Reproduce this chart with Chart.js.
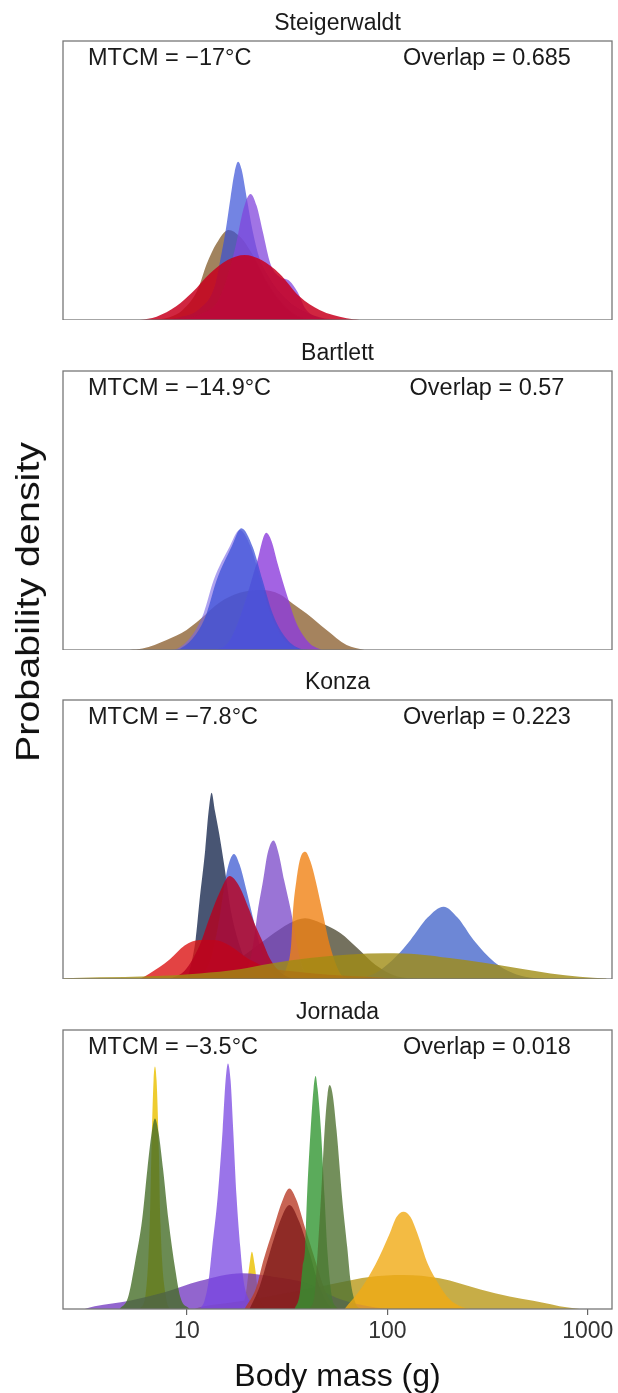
<!DOCTYPE html>
<html lang="en">
<head>
<meta charset="UTF-8">
<title>Body mass density by site</title>
<script src="https://cdn.jsdelivr.net/npm/chart.js"></script>
<style>
  body { margin: 0; background: #fff; font-family: "Liberation Sans", Arial, sans-serif; }
  #page { position: relative; width: 618px; height: 1393px; overflow: hidden; }
  .panel { position: absolute; left: 0; width: 618px; }
  .note { position: absolute; font-size: 23.5px; line-height: 1; color: #1a1a1a; white-space: nowrap; }
  .note.mid { transform: translateX(-50%); }
  /* the y label in the figure is drawn a bit wider than it is tall */
  #ylab { position: absolute; left: 27px; top: 602px; transform: translate(-50%, -50%) rotate(-90deg) scaleX(1.16);
          font-size: 34px; line-height: 1; color: #111; white-space: nowrap; }
</style>
</head>
<body>
<div id="page">
  <div class="panel" id="p0" style="top:0px;height:320px"><canvas id="c0"></canvas></div>
  <div class="panel" id="p1" style="top:330px;height:320px"><canvas id="c1"></canvas></div>
  <div class="panel" id="p2" style="top:659px;height:320px"><canvas id="c2"></canvas></div>
  <div class="panel" id="p3" style="top:989px;height:404px"><canvas id="c3"></canvas></div>

  <div class="note" style="left:88px;top:45.5px">MTCM = −17°C</div>
  <div class="note mid" style="left:487px;top:45.5px">Overlap = 0.685</div>
  <div class="note" style="left:88px;top:375.5px">MTCM = −14.9°C</div>
  <div class="note mid" style="left:487px;top:375.5px">Overlap = 0.57</div>
  <div class="note" style="left:88px;top:704.5px">MTCM = −7.8°C</div>
  <div class="note mid" style="left:487px;top:704.5px">Overlap = 0.223</div>
  <div class="note" style="left:88px;top:1034.5px">MTCM = −3.5°C</div>
  <div class="note mid" style="left:487px;top:1034.5px">Overlap = 0.018</div>

  <div id="ylab">Probability density</div>
</div>

<script>
// body mass (g), relative density (share of panel height)
const siteNames = ['Steigerwaldt', 'Bartlett', 'Konza', 'Jornada'];
const massTicks = [10, 100, 1000];

const steigBrown = [[6.52,0],[8.20,0.01],[9.52,0.036],[11.31,0.108],[12.54,0.2],[14.07,0.275],[16.14,0.323],[18.32,0.30],[21.02,0.24],[24.41,0.15],[29.0,0.07],[34.45,0.02],[40.93,0]];
const steigBlue = [[6.52,0],[9.20,0.01],[11.57,0.04],[13.75,0.12],[14.90,0.24],[15.60,0.32],[16.52,0.44],[17.30,0.53],[18.01,0.567],[18.74,0.54],[19.85,0.44],[21.27,0.32],[23.04,0.22],[25.85,0.15],[29.0,0.10],[34.45,0.05],[45.9,0.01],[57.8,0]];
const steigPurple = [[8.20,0],[11.57,0.02],[14.56,0.08],[17.30,0.25],[19.18,0.40],[20.78,0.452],[22.26,0.41],[23.85,0.32],[26.15,0.2],[29.0,0.155],[32.5,0.14],[35.66,0.10],[39.08,0.04],[45.9,0.005],[51.5,0]];
const steigRed = [[5.81,0],[7.06,0.012],[8.88,0.05],[10.68,0.10],[12.98,0.166],[15.96,0.215],[19.40,0.233],[23.58,0.215],[29.0,0.166],[36.49,0.084],[45.9,0.036],[62.6,0.006],[72.7,0]];

const bartBrown = [[5.18,0],[6.01,0.005],[7.92,0.036],[9.97,0.072],[11.57,0.108],[14.56,0.17],[18.32,0.205],[23.58,0.215],[29.0,0.2],[33.67,0.167],[39.54,0.131],[49.76,0.072],[62.6,0.018],[76.95,0]];
const bartPurple = [[13.75,0],[15.96,0.024],[17.90,0.095],[19.85,0.19],[22.26,0.31],[24.89,0.42],[26.45,0.39],[28.34,0.31],[31.78,0.19],[35.25,0.095],[40.93,0.024],[46.96,0]];
const bartSlate = [[8.39,0],[8.99,0.005],[10.80,0.06],[12.11,0.131],[13.59,0.25],[16.33,0.37],[18.32,0.43],[20.78,0.37],[23.31,0.25],[26.15,0.131],[30.37,0.04],[35.66,0.005],[40.0,0]];
const bartBlue = [[8.68,0],[9.30,0.005],[11.18,0.06],[12.54,0.131],[14.07,0.25],[16.71,0.37],[18.68,0.436],[21.27,0.37],[23.85,0.25],[26.76,0.131],[31.42,0.04],[36.49,0.005],[40.93,0]];

const konzaGrey = [[11.57,0],[14.23,0.033],[18.85,0.08],[26.00,0.154],[32.5,0.2],[38.90,0.218],[46.96,0.2],[58.23,0.165],[71.03,0.11],[87.33,0.05],[111.1,0.01],[144.7,0]];
const konzaNavy = [[10.08,0],[11.05,0.14],[11.57,0.283],[12.34,0.462],[12.83,0.6],[13.28,0.668],[13.82,0.6],[14.50,0.52],[15.42,0.40],[16.52,0.25],[18.32,0.12],[20.54,0.04],[23.58,0]];
const konzaBlue = [[11.57,0],[13.28,0.08],[14.56,0.22],[15.78,0.38],[17.18,0.448],[18.32,0.41],[19.63,0.33],[21.69,0.2],[23.58,0.1],[25.85,0.03],[30.71,0]];
const konzaBlueLarge = [[72.7,0],[91.44,0.03],[111.1,0.082],[130.5,0.14],[158.7,0.22],[190.7,0.259],[223.9,0.22],[269.2,0.14],[342.5,0.06],[419.2,0.022],[512.0,0.005],[608.1,0]];
const konzaPurple = [[18.32,0],[20.54,0.06],[21.69,0.15],[22.53,0.24],[23.99,0.353],[25.26,0.45],[27.06,0.496],[28.67,0.45],[30.58,0.353],[33.13,0.24],[35.91,0.1],[38.90,0.02],[43.35,0]];
const konzaOrange = [[29.0,0],[31.42,0.04],[33.13,0.125],[33.79,0.24],[35.17,0.353],[36.70,0.43],[38.90,0.456],[41.40,0.42],[43.85,0.353],[47.51,0.24],[51.5,0.125],[58.23,0.02],[64.8,0]];
const konzaRedWide = [[5.81,0],[6.52,0.02],[8.20,0.07],[9.74,0.12],[11.57,0.14],[13.75,0.14],[16.33,0.12],[20.54,0.07],[25.85,0.04],[36.49,0.025],[51.5,0.015],[91.44,0.005],[115.0,0]];
const konzaRed = [[8.20,0],[9.74,0.03],[11.57,0.12],[12.98,0.22],[14.56,0.31],[16.33,0.369],[18.32,0.33],[20.43,0.25],[22.01,0.19],[23.99,0.13],[25.85,0.075],[28.18,0.036],[32.5,0.005],[36.49,0]];
const konzaOlive = [[2.43,0.003],[3.67,0.006],[6.52,0.01],[11.57,0.02],[18.32,0.035],[25.85,0.055],[40.93,0.075],[64.8,0.088],[97.95,0.092],[144.7,0.088],[204.3,0.075],[291.6,0.06],[456.4,0.038],[651.6,0.02],[909.1,0.008],[1240,0.002]];

const jorGold = [[10.92,0],[11.57,0.006],[17.38,0.025],[25.85,0.045],[38.90,0.07],[57.8,0.095],[81.52,0.115],[120.4,0.122],[182.1,0.11],[291.6,0.07],[406.9,0.045],[534.2,0.03],[799.0,0.005],[909.1,0]];
const jorYellow = [[5.81,0],[6.22,0.05],[6.52,0.3],[6.67,0.6],[6.82,0.82],[6.93,0.869],[7.06,0.82],[7.23,0.6],[7.39,0.3],[7.83,0.05],[8.39,0],[18.32,0],[19.63,0.05],[20.54,0.16],[21.10,0.205],[21.76,0.16],[22.78,0.05],[24.41,0]];
const jorViolet = [[3.09,0],[3.47,0.01],[5.18,0.03],[7.74,0.06],[11.57,0.1],[18.85,0.128],[27.38,0.115],[38.90,0.094],[58.23,0.035],[87.33,0.005],[102.6,0]];
const jorOliveSmall = [[4.62,0],[5.08,0.04],[5.51,0.166],[5.98,0.32],[6.35,0.5],[6.67,0.63],[6.93,0.683],[7.23,0.63],[7.61,0.5],[8.09,0.32],[8.76,0.14],[9.30,0.04],[10.31,0]];
const jorPurple = [[11.57,0],[12.25,0.03],[12.83,0.1],[13.37,0.22],[14.23,0.40],[15.07,0.64],[15.60,0.82],[16.03,0.88],[16.52,0.82],[17.03,0.64],[17.70,0.40],[18.47,0.22],[19.18,0.1],[20.54,0.03],[22.01,0]];
const jorRust = [[19.40,0],[22.14,0.075],[23.99,0.17],[27.06,0.29],[30.02,0.39],[32.45,0.432],[35.25,0.39],[38.90,0.29],[43.85,0.17],[47.51,0.09],[52.70,0.02],[57.8,0]];
const jorMaroon = [[20.54,0],[23.04,0.08],[25.85,0.2],[29.0,0.31],[32.45,0.373],[36.49,0.31],[40.93,0.2],[45.9,0.08],[51.5,0.01],[54.55,0]];
const jorGreen = [[34.45,0],[36.49,0.05],[37.76,0.15],[38.90,0.22],[39.72,0.40],[41.40,0.64],[42.85,0.79],[43.85,0.835],[44.86,0.79],[46.65,0.64],[48.63,0.40],[50.32,0.2],[52.70,0.05],[56.45,0]];
const jorOliveLarge = [[40.93,0],[43.35,0.05],[44.86,0.2],[46.65,0.40],[48.63,0.64],[50.32,0.77],[51.5,0.803],[53.31,0.77],[55.81,0.64],[59.45,0.40],[63.10,0.22],[65.54,0.1],[69.42,0.02],[74.36,0]];
const jorOrange = [[61.17,0],[74.19,0.075],[87.33,0.16],[102.6,0.27],[111.1,0.33],[120.4,0.349],[130.5,0.33],[141.4,0.27],[159.4,0.16],[180.1,0.09],[204.3,0.035],[234.5,0.008],[257.0,0]];

// drawing order: first entry at the bottom
const panels = [
  [
    { pts: steigBrown,  color: 'rgba(130,90,40,0.75)' },
    { pts: steigBlue,   color: 'rgba(55,80,215,0.7)' },
    { pts: steigPurple, color: 'rgba(130,70,220,0.75)' },
    { pts: steigRed,    color: 'rgba(200,0,30,0.85)' }
  ],
  [
    { pts: bartBrown,  color: 'rgba(135,90,40,0.75)' },
    { pts: bartPurple, color: 'rgba(140,60,220,0.8)' },
    { pts: bartSlate,  color: 'rgba(120,100,230,0.6)' },
    { pts: bartBlue,   color: 'rgba(60,80,215,0.75)' }
  ],
  [
    { pts: konzaGrey,      color: 'rgba(70,65,40,0.75)' },
    { pts: konzaNavy,      color: 'rgba(40,55,90,0.85)' },
    { pts: konzaBlue,      color: 'rgba(60,90,210,0.75)' },
    { pts: konzaBlueLarge, color: 'rgba(60,95,200,0.75)' },
    { pts: konzaPurple,    color: 'rgba(120,70,200,0.75)' },
    { pts: konzaOrange,    color: 'rgba(240,130,20,0.8)' },
    { pts: konzaRedWide,   color: 'rgba(220,20,20,0.8)' },
    { pts: konzaRed,       color: 'rgba(185,0,30,0.8)' },
    { pts: konzaOlive,     color: 'rgba(160,140,20,0.8)' }
  ],
  [
    { pts: jorGold,       color: 'rgba(180,145,10,0.75)' },
    { pts: jorYellow,     color: 'rgba(235,195,10,0.85)' },
    { pts: jorViolet,     color: 'rgba(110,50,190,0.75)' },
    { pts: jorOliveSmall, color: 'rgba(70,110,40,0.8)' },
    { pts: jorPurple,     color: 'rgba(120,70,225,0.75)' },
    { pts: jorRust,       color: 'rgba(185,60,40,0.8)' },
    { pts: jorMaroon,     color: 'rgba(120,20,20,0.7)' },
    { pts: jorGreen,      color: 'rgba(50,150,50,0.8)' },
    { pts: jorOliveLarge, color: 'rgba(80,115,50,0.8)' },
    { pts: jorOrange,     color: 'rgba(240,170,20,0.8)' }
  ]
];

const framePlugin = {
  id: 'frame',
  afterDraw(chart) {
    const { ctx, chartArea: a } = chart;
    ctx.save();
    ctx.strokeStyle = '#777';
    ctx.lineWidth = 1.3;
    ctx.strokeRect(a.left, a.top, a.right - a.left, a.bottom - a.top);
    ctx.restore();
  }
};

function makePanel(idx) {
  const series = panels[idx];
  const last = idx === panels.length - 1;
  new Chart(document.getElementById('c' + idx), {
    type: 'line',
    data: {
      datasets: series.map((s, i) => ({
        data: s.pts.map(p => ({ x: p[0], y: p[1] })),
        backgroundColor: s.color,
        borderWidth: 0,
        pointRadius: 0,
        fill: 'origin',
        cubicInterpolationMode: 'monotone',
        order: series.length - i
      }))
    },
    options: {
      responsive: true,
      maintainAspectRatio: false,
      animation: false,
      events: [],
      layout: { padding: { left: 63, right: 6, top: 0, bottom: 0 } },
      plugins: {
        legend: { display: false },
        tooltip: { enabled: false },
        title: {
          display: true,
          text: siteNames[idx],
          color: '#1a1a1a',
          font: { family: 'Liberation Sans', size: 23, weight: 'normal' },
          padding: { top: 9.7, bottom: 3.7 }
        }
      },
      scales: {
        x: {
          type: 'logarithmic',
          min: 2.41,
          max: 1320,
          display: last,
          border: { display: false },
          grid: { display: true, drawOnChartArea: false, drawTicks: true, tickLength: 6, color: '#666', lineWidth: 1.2 },
          afterBuildTicks: scale => { scale.ticks = massTicks.map(v => ({ value: v })); },
          ticks: {
            autoSkip: false,
            maxRotation: 0,
            padding: 3.2,
            color: '#333',
            font: { family: 'Liberation Sans', size: 23 },
            callback: v => String(v)
          },
          title: {
            display: true,
            text: 'Body mass (g)',
            color: '#111',
            font: { family: 'Liberation Sans', size: 32, lineHeight: 1 },
            padding: { top: 12, bottom: 0 }
          }
        },
        y: { display: false, min: 0, max: 1 }
      }
    },
    plugins: [framePlugin]
  });
}

for (let i = 0; i < panels.length; i++) makePanel(i);
</script>
</body>
</html>
